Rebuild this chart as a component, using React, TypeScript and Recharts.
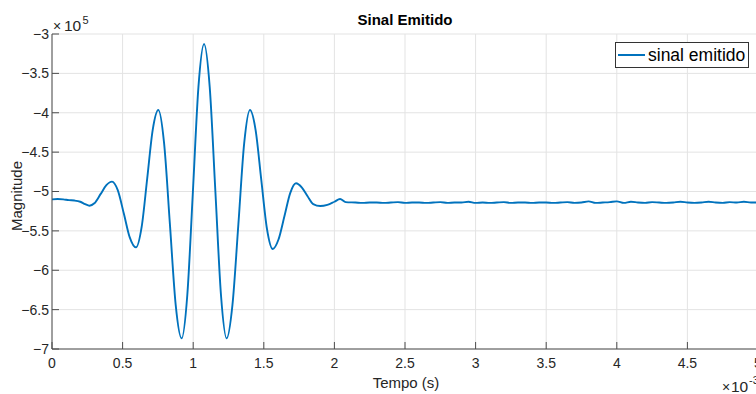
import React from 'react';
import { LineChart, Line, XAxis, YAxis, CartesianGrid, Legend } from 'recharts';

// time in milliseconds (axis shows values ×10^-3 s)
const timeMs = [
  0.0, 0.04, 0.08, 0.12, 0.16, 0.2, 0.235, 0.265, 0.3, 0.345, 0.385, 0.425,
  0.465, 0.51, 0.55, 0.595, 0.635, 0.674, 0.713, 0.753, 0.794, 0.835, 0.876,
  0.918, 0.958, 0.998, 1.037, 1.077, 1.117, 1.157, 1.197, 1.237, 1.278, 1.32,
  1.361, 1.402, 1.442, 1.482, 1.522, 1.563, 1.604, 1.646, 1.687, 1.728, 1.77,
  1.81, 1.85, 1.9, 1.95, 2.0, 2.04, 2.08,
  2.15, 2.2, 2.25, 2.3, 2.35, 2.4, 2.45, 2.5, 2.55, 2.6, 2.65, 2.7, 2.75, 2.8,
  2.85, 2.9, 2.95, 3.0, 3.05, 3.1, 3.15, 3.2, 3.25, 3.3, 3.35, 3.4, 3.45, 3.5,
  3.55, 3.6, 3.65, 3.7, 3.75, 3.8, 3.85, 3.9, 3.95, 4.0, 4.05, 4.1, 4.15, 4.2,
  4.25, 4.3, 4.35, 4.4, 4.45, 4.5, 4.55, 4.6, 4.65, 4.7, 4.75, 4.8, 4.85, 4.9,
  4.95, 5.0,
];

// magnitude in units of 10^5
const magnitudeE5 = [
  -5.1, -5.095, -5.1, -5.11, -5.115, -5.13, -5.16, -5.18, -5.15, -5.03, -4.92, -4.875,
  -4.98, -5.29, -5.58, -5.71, -5.45, -4.84, -4.22, -3.965, -4.39, -5.415, -6.44,
  -6.865, -6.32, -4.996, -3.675, -3.127, -3.675, -4.996, -6.32, -6.865, -6.44, -5.415,
  -4.39, -3.965, -4.22, -4.85, -5.47, -5.73, -5.61, -5.315, -5.02, -4.895, -4.95,
  -5.06, -5.16, -5.185, -5.17, -5.13, -5.095, -5.135,
  -5.14, -5.145, -5.14, -5.14, -5.145, -5.14, -5.135, -5.145, -5.14, -5.14, -5.145, -5.14, -5.135, -5.145,
  -5.14, -5.14, -5.13, -5.145, -5.14, -5.145, -5.14, -5.135, -5.145, -5.14, -5.14, -5.145, -5.14, -5.14,
  -5.145, -5.14, -5.135, -5.145, -5.14, -5.125, -5.145, -5.14, -5.135, -5.125, -5.145, -5.13, -5.14, -5.145,
  -5.135, -5.14, -5.145, -5.14, -5.13, -5.14, -5.145, -5.14, -5.13, -5.14, -5.145, -5.135, -5.14, -5.13,
  -5.14, -5.14,
];

const xTickLabelsMs = [0, 0.5, 1, 1.5, 2, 2.5, 3, 3.5, 4, 4.5, 5];
const yTickLabelsE5 = [-7, -6.5, -6, -5.5, -5, -4.5, -4, -3.5, -3];

const seriesName = 'sinal emitido';

const data = timeMs.map((t, i) => ({ t: t / 1000, v: magnitudeE5[i] * 1e5 }));
const xTicks = xTickLabelsMs.map((t) => t / 1000);
const yTicks = yTickLabelsE5.map((v) => v * 1e5);

const FONT = '"Liberation Sans", Arial, Helvetica, sans-serif';
const TEXT = '#262626';
const AXIS = '#4d4d4d';
const BLUE = '#0072BD';

const fmtX = (v: number) => String(Math.round(v * 10000) / 10);
const fmtY = (v: number) => String(Math.round(v / 1e4) / 10).replace('-', '\u2212');
const blank = () => '';

const LegendBox = () => (
  <div
    style={{
      width: 132,
      height: 24,
      border: '1px solid #333',
      background: '#fff',
      display: 'flex',
      alignItems: 'center',
      fontFamily: FONT,
      fontSize: 17.5,
      color: '#000',
      boxSizing: 'content-box',
    }}
  >
    <svg width={30} height={24} style={{ display: 'block' }}>
      <line x1={2} y1={12} x2={29} y2={12} stroke={BLUE} strokeWidth={2} />
    </svg>
    <span style={{ marginLeft: 2, lineHeight: '24px', whiteSpace: 'nowrap' }}>{seriesName}</span>
  </div>
);

export default function App() {
  const tickStyle = { fill: TEXT, fontSize: 14, fontFamily: FONT };
  return (
    <div
      style={{
        position: 'absolute',
        left: 0,
        top: 0,
        width: 756,
        height: 394,
        overflow: 'hidden',
        background: '#fff',
      }}
    >
      <LineChart
        width={760}
        height={394}
        data={data}
        margin={{ top: 34, right: 2, bottom: 0, left: 0 }}
      >
        <CartesianGrid stroke="#e3e3e3" strokeWidth={1} />
        <XAxis
          dataKey="t"
          type="number"
          domain={[0, 0.005]}
          ticks={xTicks}
          interval={0}
          allowDataOverflow
          tickFormatter={fmtX}
          height={45}
          tickSize={-7}
          tickMargin={16}
          tick={tickStyle}
          axisLine={{ stroke: AXIS }}
          tickLine={{ stroke: AXIS }}
        />
        <XAxis
          xAxisId="top"
          orientation="top"
          dataKey="t"
          type="number"
          domain={[0, 0.005]}
          ticks={xTicks}
          interval={0}
          allowDataOverflow
          tickFormatter={blank}
          height={0}
          tickSize={-7}
          axisLine={{ stroke: AXIS }}
          tickLine={{ stroke: AXIS }}
        />
        <YAxis
          type="number"
          domain={[-700000, -300000]}
          ticks={yTicks}
          interval={0}
          allowDataOverflow
          tickFormatter={fmtY}
          width={52}
          tickSize={-7}
          tickMargin={10}
          tick={tickStyle}
          axisLine={{ stroke: AXIS }}
          tickLine={{ stroke: AXIS }}
        />
        <YAxis
          yAxisId="right"
          orientation="right"
          type="number"
          domain={[-700000, -300000]}
          ticks={yTicks}
          interval={0}
          allowDataOverflow
          tickFormatter={blank}
          width={0}
          tickSize={-7}
          axisLine={{ stroke: AXIS }}
          tickLine={{ stroke: AXIS }}
        />
        <Legend
          layout="vertical"
          align="center"
          verticalAlign="middle"
          content={() => <LegendBox />}
          wrapperStyle={{ left: 615, top: 42, width: 134, height: 26, right: 'auto', bottom: 'auto' }}
        />
        <Line
          name={seriesName}
          dataKey="v"
          type="monotone"
          stroke={BLUE}
          strokeWidth={1.9}
          dot={false}
          activeDot={false}
          isAnimationActive={false}
        />
      </LineChart>
      <svg
        width={756}
        height={394}
        style={{ position: 'absolute', left: 0, top: 0, pointerEvents: 'none' }}
        fontFamily={FONT}
      >
        <text x={405} y={25} textAnchor="middle" fontSize={15} fontWeight="bold" fill="#000">
          Sinal Emitido
        </text>
        <text x={53} y={30.5} fontSize={14} fill={TEXT}>
          ×
        </text>
        <text x={64} y={30.5} fontSize={15.5} fill={TEXT}>
          10
        </text>
        <text x={82.5} y={24} fontSize={11} fill={TEXT}>
          5
        </text>
        <text x={722} y={391.5} fontSize={14} fill={TEXT}>
          ×
        </text>
        <text x={731} y={391.5} fontSize={15.5} fill={TEXT}>
          10
        </text>
        <text x={749} y={384} fontSize={11} fill={TEXT}>
          -3
        </text>
        <text x={406} y={388} textAnchor="middle" fontSize={15} fill={TEXT}>
          Tempo (s)
        </text>
        <text
          x={22}
          y={196}
          textAnchor="middle"
          fontSize={15}
          fill={TEXT}
          transform="rotate(-90 22 196)"
        >
          Magnitude
        </text>
      </svg>
    </div>
  );
}
